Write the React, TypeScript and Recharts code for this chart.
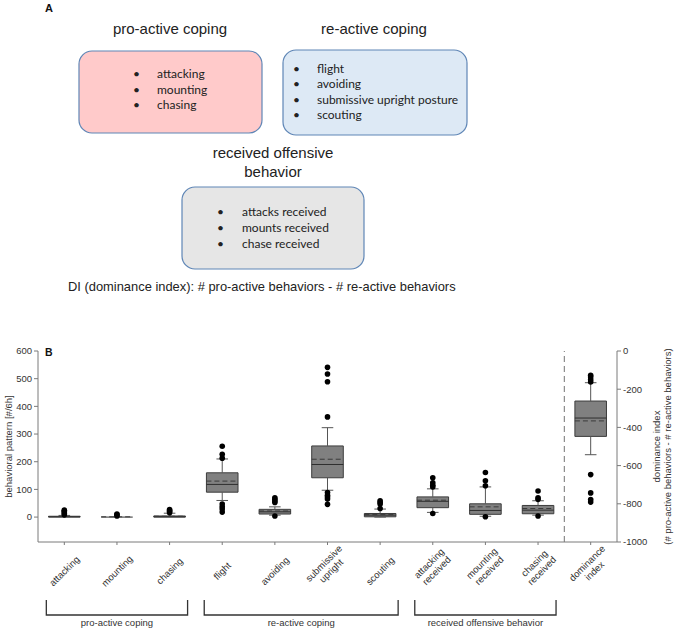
import React from 'react';
import {
  ComposedChart,
  XAxis,
  YAxis,
  Scatter,
  ReferenceArea,
  ReferenceLine,
} from 'recharts';

// categories (position = index + 1); last one is plotted on the right axis
const categories = [
  'attacking',
  'mounting',
  'chasing',
  'flight',
  'avoiding',
  'submissive\nupright',
  'scouting',
  'attacking\nreceived',
  'mounting\nreceived',
  'chasing\nreceived',
  'dominance\nindex',
];

// box plot statistics
const q1 = [0, 0, 0, 90, 11, 142, 1, 34, 10, 12, -447];
const q3 = [3, 0, 4, 160, 28, 257, 13, 73, 48, 42, -262];
const medians = [1, 0, 1, 118, 19, 190, 7, 57, 24, 25, -351];
const means = [2, 1, 3, 130, 22, 209, 9, 61, 37, 31, -366];
const whiskerLow = [0, 0, 0, 60, 7, 97, 0, 17, 3, 7, -543];
const whiskerHigh = [6, 0, 14, 210, 37, 323, 29, 102, 109, 59, -166];
const outliers = [
  [8, 13, 18, 22, 25],
  [4, 8, 11],
  [16, 20, 24, 27],
  [256, 227, 213, 47, 37, 29, 18],
  [70, 64, 58, 53, 4],
  [541, 517, 489, 362, 89, 79, 73, 65, 46],
  [59, 53, 47, 31],
  [142, 124, 115, 109, 13],
  [161, 131, 113, 1],
  [94, 70, 64, 4],
  [-127, -136, -150, -162, -647, -743, -778, -791],
];

const leftTicks = [0, 100, 200, 300, 400, 500, 600];
const rightTicks = [-1000, -800, -600, -400, -200, 0];

const groups = [
  { label: 'pro-active coping', from: 1, to: 3 },
  { label: 're-active coping', from: 4, to: 7 },
  { label: 'received offensive behavior', from: 8, to: 10 },
];

const proActive = ['attacking', 'mounting', 'chasing'];
const reActive = ['flight', 'avoiding', 'submissive upright posture', 'scouting'];
const received = ['attacks received', 'mounts received', 'chase received'];

const DI_IDX = categories.length - 1;
const BOX_HALF = 0.3;
const CAP_HALF = 0.11;
const FONT = '"Liberation Sans", Arial, sans-serif';
const TEXT = '#333';
const AXIS = '#7a7a7a';
const BOX_FILL = '#808080';
const BOX_STROKE = '#3c3c3c';

// chart geometry
const CHART_TOP = 330;
const PLOT_LEFT = 38;
const PLOT_W = 579;
const xFor = (pos: number) => PLOT_LEFT + (pos - 0.5) * (PLOT_W / categories.length);

const leftOutliers = outliers
  .slice(0, DI_IDX)
  .flatMap((vals, i) => vals.map((y) => ({ x: i + 1, y })));
const rightOutliers = outliers[DI_IDX].map((y) => ({ x: DI_IDX + 1, y }));

const XTick = (props: any) => {
  const { x, y, payload } = props;
  const idx = Math.round(payload.value) - 1;
  const lines = (categories[idx] || '').split('\n');
  const cy = y + (lines.length > 1 ? 20 : 24);
  return (
    <g transform={`translate(${x},${cy}) rotate(-45)`}>
      <text textAnchor="middle" fontSize={9.5} fill={TEXT} fontFamily={FONT}>
        {lines.map((l, i) => (
          <tspan key={i} x={0} y={(i - (lines.length - 1) / 2) * 10.5} dy="0.35em">
            {l}
          </tspan>
        ))}
      </text>
    </g>
  );
};

const LeftLabel = (props: any) => {
  const { x, y, height } = props.viewBox;
  const cx = x + 8;
  const cy = y + height / 2;
  return (
    <text
      x={cx}
      y={cy}
      transform={`rotate(-90, ${cx}, ${cy})`}
      textAnchor="middle"
      dominantBaseline="central"
      fontSize={9.5}
      fill={TEXT}
      fontFamily={FONT}
    >
      behavioral pattern [#/6h]
    </text>
  );
};

const RightLabel = (props: any) => {
  const { x, y, height } = props.viewBox;
  const cx = x + 40;
  const cy = y + height / 2;
  return (
    <text
      transform={`rotate(-90, ${cx}, ${cy})`}
      textAnchor="middle"
      fontSize={9.5}
      fill={TEXT}
      fontFamily={FONT}
    >
      <tspan x={cx} y={cy} dy="0.35em">dominance index</tspan>
      <tspan x={cx} y={cy + 11} dy="0.35em">(# pro-active behaviors - # re-active behaviors)</tspan>
    </text>
  );
};

const Dot = (props: any) => <circle cx={props.cx} cy={props.cy} r={2.8} fill="#000" />;

const BulletList = ({ items, bx, tx, y0, step }: { items: string[]; bx: number; tx: number; y0: number; step: number }) => (
  <g fontFamily='Lato, "Open Sans", sans-serif' fontSize={12} fill="#222">
    {items.map((t, i) => (
      <g key={t}>
        <text x={bx} y={y0 + i * step}>•</text>
        <text x={tx} y={y0 + i * step}>{t}</text>
      </g>
    ))}
  </g>
);

const PanelA = () => (
  <svg width={675} height={300} style={{ position: 'absolute', left: 0, top: 0 }}>
    <text x={45} y={12} fontSize={11} fontWeight="bold" fontFamily={FONT} fill="#111">A</text>
    <g fontFamily={FONT} fontSize={15} fill="#222" textAnchor="middle">
      <text x={170} y={34}>pro-active coping</text>
      <text x={374} y={34}>re-active coping</text>
      <text x={273} y={158}>received offensive</text>
      <text x={273} y={177}>behavior</text>
    </g>
    <rect x={79} y={51} width={183} height={82} rx={13} fill="#ffcaca" stroke="#5f86b6" strokeWidth={1.2} />
    <rect x={283} y={50} width={184} height={85} rx={13} fill="#dde9f5" stroke="#5f86b6" strokeWidth={1.2} />
    <rect x={182} y={187} width={182} height={82} rx={13} fill="#e6e6e6" stroke="#5f86b6" strokeWidth={1.2} />
    <BulletList items={proActive} bx={133} tx={157} y0={78} step={15.5} />
    <BulletList items={reActive} bx={293} tx={317} y0={73} step={15.3} />
    <BulletList items={received} bx={217} tx={242} y0={216} step={16} />
    <text x={68} y={291} fontSize={12.9} fontFamily={FONT} fill="#222">
      DI (dominance index): # pro-active behaviors - # re-active behaviors
    </text>
  </svg>
);

const Brackets = () => (
  <svg width={675} height={40} style={{ position: 'absolute', left: 0, top: CHART_TOP + 262 }}>
    {groups.map((g) => {
      const x1 = xFor(g.from) - 18;
      const x2 = xFor(g.to) + 18;
      return (
        <g key={g.label}>
          <path d={`M${x1},8 V23 H${x2} V8`} fill="none" stroke="#333" strokeWidth={1.3} />
          <text x={(x1 + x2) / 2} y={34} textAnchor="middle" fontSize={9.5} fill={TEXT} fontFamily={FONT}>
            {g.label}
          </text>
        </g>
      );
    })}
  </svg>
);

export default function App() {
  return (
    <div style={{ position: 'absolute', left: 0, top: 0, width: 675, height: 629, background: '#fff' }}>
      <PanelA />
      <div style={{ position: 'absolute', left: 0, top: CHART_TOP }}>
        <ComposedChart width={675} height={299} margin={{ top: 21, right: 0, bottom: 0, left: 0 }}>
          <XAxis
            xAxisId="x"
            type="number"
            dataKey="x"
            domain={[0.5, categories.length + 0.5]}
            ticks={categories.map((_, i) => i + 1)}
            height={87}
            tickSize={3}
            tickMargin={2}
            tick={<XTick />}
            stroke={AXIS}
            interval={0}
          />
          <YAxis
            yAxisId="left"
            type="number"
            domain={[-90, 600]}
            ticks={leftTicks}
            width={38}
            tickSize={4}
            tickMargin={2}
            stroke={AXIS}
            tick={{ fontSize: 9.5, fill: TEXT, fontFamily: FONT }}
            label={<LeftLabel />}
            allowDataOverflow
          />
          <YAxis
            yAxisId="right"
            orientation="right"
            type="number"
            domain={[-1000, 0]}
            ticks={rightTicks}
            width={58}
            tickSize={4}
            tickMargin={2}
            stroke={AXIS}
            tick={{ fontSize: 9.5, fill: TEXT, fontFamily: FONT, textAnchor: 'start' }}
            label={<RightLabel />}
            allowDataOverflow
          />

          <ReferenceLine
            xAxisId="x"
            yAxisId="left"
            x={DI_IDX + 0.5}
            stroke="#8a8a8a"
            strokeWidth={1.2}
            strokeDasharray="6 4"
          />

          {categories.map((_, i) => {
            const pos = i + 1;
            const axis = i === DI_IDX ? 'right' : 'left';
            const els = [];
            if (whiskerHigh[i] > q3[i]) {
              els.push(
                <ReferenceLine key={`wh${i}`} xAxisId="x" yAxisId={axis} stroke="#555" strokeWidth={1}
                  segment={[{ x: pos, y: q3[i] }, { x: pos, y: whiskerHigh[i] }]} />,
                <ReferenceLine key={`ch${i}`} xAxisId="x" yAxisId={axis} stroke="#555" strokeWidth={1}
                  segment={[{ x: pos - CAP_HALF, y: whiskerHigh[i] }, { x: pos + CAP_HALF, y: whiskerHigh[i] }]} />
              );
            }
            if (whiskerLow[i] < q1[i]) {
              els.push(
                <ReferenceLine key={`wl${i}`} xAxisId="x" yAxisId={axis} stroke="#555" strokeWidth={1}
                  segment={[{ x: pos, y: whiskerLow[i] }, { x: pos, y: q1[i] }]} />,
                <ReferenceLine key={`cl${i}`} xAxisId="x" yAxisId={axis} stroke="#555" strokeWidth={1}
                  segment={[{ x: pos - CAP_HALF, y: whiskerLow[i] }, { x: pos + CAP_HALF, y: whiskerLow[i] }]} />
              );
            }
            return els;
          })}

          {categories.map((_, i) => (
            <ReferenceArea
              key={`box${i}`}
              xAxisId="x"
              yAxisId={i === DI_IDX ? 'right' : 'left'}
              x1={i + 1 - BOX_HALF}
              x2={i + 1 + BOX_HALF}
              y1={q1[i]}
              y2={q3[i]}
              fill={BOX_FILL}
              fillOpacity={1}
              stroke={BOX_STROKE}
              strokeWidth={1}
              ifOverflow="visible"
            />
          ))}

          {categories.map((_, i) => (
            <ReferenceLine
              key={`med${i}`}
              xAxisId="x"
              yAxisId={i === DI_IDX ? 'right' : 'left'}
              stroke="#2e2e2e"
              strokeWidth={1}
              segment={[{ x: i + 1 - BOX_HALF, y: medians[i] }, { x: i + 1 + BOX_HALF, y: medians[i] }]}
            />
          ))}
          {categories.map((_, i) => (
            <ReferenceLine
              key={`mean${i}`}
              xAxisId="x"
              yAxisId={i === DI_IDX ? 'right' : 'left'}
              stroke="#3a3a3a"
              strokeWidth={1}
              strokeDasharray="5 3"
              segment={[{ x: i + 1 - BOX_HALF, y: means[i] }, { x: i + 1 + BOX_HALF, y: means[i] }]}
            />
          ))}

          <Scatter xAxisId="x" yAxisId="left" data={leftOutliers} dataKey="y" shape={<Dot />} isAnimationActive={false} />
          <Scatter xAxisId="x" yAxisId="right" data={rightOutliers} dataKey="y" shape={<Dot />} isAnimationActive={false} />
        </ComposedChart>
      </div>
      <svg width={60} height={20} style={{ position: 'absolute', left: 0, top: 340 }}>
        <text x={45} y={16} fontSize={10.5} fontWeight="bold" fontFamily={FONT} fill="#111">B</text>
      </svg>
      <Brackets />
    </div>
  );
}
